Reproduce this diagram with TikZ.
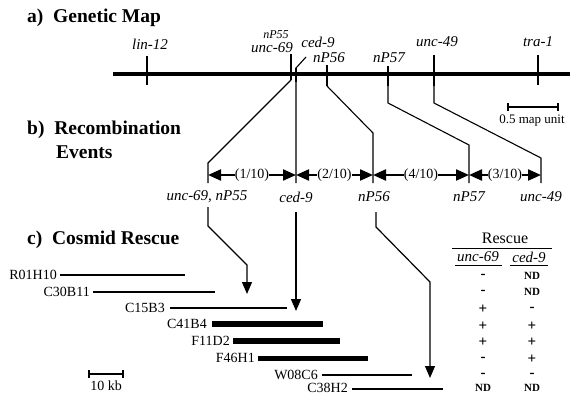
\documentclass[tikz,border=0pt]{standalone}
\usepackage{fontspec}
\setmainfont{Liberation Serif}
\usetikzlibrary{arrows.meta}
\begin{document}
\begin{tikzpicture}[x=1pt,y=-1pt,
  title/.style={anchor=west,font=\fontsize{19.5}{21}\selectfont\bfseries,inner sep=0pt},
  gene/.style={font=\fontsize{15}{16}\selectfont\itshape,inner sep=0pt},
  small/.style={font=\fontsize{12}{13}\selectfont\itshape,inner sep=0pt},
  ratio/.style={font=\fontsize{14}{15}\selectfont,fill=white,inner sep=0.3pt},
  cos/.style={anchor=east,font=\fontsize{14}{15}\selectfont,inner sep=0pt},
  cell/.style={font=\fontsize{15}{16}\selectfont\bfseries,inner sep=0pt},
  nd/.style={font=\fontsize{11}{12}\selectfont\bfseries,inner sep=0pt},
  tick/.style={line width=1.6pt},
  conn/.style={line width=1.1pt},
  dbl/.style={line width=2.2pt,{Triangle[length=13pt,width=11pt]}-{Triangle[length=13pt,width=11pt]}},
  down/.style={line width=1.2pt,-{Triangle[length=12pt,width=10pt]}}]
\useasboundingbox (0,0) rectangle (570,394);

% titles
\node[title] (ta) at (27,18) {a)\ \ Genetic Map};
\node[title] (tb) at (27,130) {b)\ \ Recombination};
\node[title] (tb2) at (56,152) {Events};
\node[title] (tc) at (27,240) {c)\ \ Cosmid Rescue};

% genetic map
\coordinate (mL) at (113,74);
\coordinate (mR) at (570,74);
\draw[line width=3.6pt] (mL) -- (mR);

\node[gene] (llin) at (150,44) {lin-12};
\coordinate (lin1) at (147,56); \coordinate (lin2) at (147,85);
\draw[tick] (lin1) -- (lin2);

\node[small] (lnp55) at (276,35) {nP55};
\node[gene] (lunc69) at (272,48) {unc-69};
\coordinate (u1) at (291,54); \coordinate (u2) at (291,80);
\coordinate (u3) at (208,163); \coordinate (u4) at (208,183);
\draw[tick] (u1) -- (u2);
\draw[conn] (u2) -- (u3) -- (u4);

\node[gene] (lced9) at (318,42) {ced-9};
\coordinate (c0) at (306,57); \coordinate (c1) at (296,68); \coordinate (c2) at (296,183);
\draw[conn] (c0) -- (c1) -- (c2);
\draw[tick] (296,68) -- (296,82);

\node[gene] (lnp56) at (329,58) {nP56};
\coordinate (n1) at (327,65); \coordinate (n2) at (327,86);
\coordinate (n3) at (373,133); \coordinate (n4) at (373,183);
\draw[tick] (n1) -- (n2);
\draw[conn] (n2) -- (n3) -- (n4);

\node[gene] (lnp57) at (389,58) {nP57};
\coordinate (p1) at (388,66); \coordinate (p2) at (388,103);
\coordinate (p3) at (469,145); \coordinate (p4) at (469,183);
\draw[tick] (p1) -- (388,86);
\draw[conn] (388,86) -- (p2) -- (p3) -- (p4);

\node[gene] (lunc49) at (437,42) {unc-49};
\coordinate (q1) at (434,55); \coordinate (q2) at (434,103);
\coordinate (q3) at (541,158); \coordinate (q4) at (541,183);
\draw[tick] (q1) -- (434,86);
\draw[conn] (434,86) -- (q2) -- (q3) -- (q4);

\node[gene] (ltra) at (538,42) {tra-1};
\coordinate (t1) at (538,55); \coordinate (t2) at (538,85);
\draw[tick] (t1) -- (t2);

% map scale
\coordinate (s1) at (508,107); \coordinate (s2) at (558,107);
\draw[line width=1.2pt] (s1) -- (s2);
\draw[line width=1.2pt] (508,103) -- (508,111) (558,103) -- (558,111);
\node[font=\fontsize{13}{14}\selectfont,inner sep=0pt] (lscale) at (532,121) {0.5 map unit};

% recombination events
\coordinate (e1) at (208,175); \coordinate (e2) at (296,175);
\coordinate (e3) at (373,175); \coordinate (e4) at (469,175);
\coordinate (e5) at (541,175);
\draw[dbl] (e1) -- node[ratio] (r1) {(1/10)} (e2);
\draw[dbl] (e2) -- node[ratio] (r2) {(2/10)} (e3);
\draw[dbl] (e3) -- node[ratio] (r3) {(4/10)} (e4);
\draw[dbl] (e4) -- node[ratio] (r4) {(3/10)} (e5);

\node[gene] (bu69) at (207,197) {unc-69, nP55};
\node[gene] (bc9) at (296,197) {ced-9};
\node[gene] (bn56) at (374,197) {nP56};
\node[gene] (bn57) at (469,197) {nP57};
\node[gene] (bu49) at (541,197) {unc-49};

% connectors to cosmids
\coordinate (d1) at (208,207); \coordinate (d2) at (208,226); \coordinate (d3) at (247,265); \coordinate (d4) at (247,294);
\draw[down] (d1) -- (d2) -- (d3) -- (d4);
\coordinate (f1) at (296,212); \coordinate (f2) at (296,311);
\draw[down] (f1) -- (f2);
\coordinate (g1) at (376,212); \coordinate (g2) at (376,227); \coordinate (g3) at (430,282); \coordinate (g4) at (430,378);
\draw[down] (g1) -- (g2) -- (g3) -- (g4);

% cosmids
\node[cos] (k1) at (57,275) {R01H10};
\draw[line width=2.2pt] (60,275) -- (185,275);
\node[cos] (k2) at (90,292) {C30B11};
\draw[line width=1.8pt] (93,292) -- (215,292);
\node[cos] (k3) at (165,308) {C15B3};
\draw[line width=2.2pt] (170,308) -- (287,308);
\node[cos] (k4) at (207,324) {C41B4};
\draw[line width=5.5pt] (212,324) -- (323,324);
\node[cos] (k5) at (230,341) {F11D2};
\draw[line width=5.5pt] (233,341) -- (340,341);
\node[cos] (k6) at (255,358) {F46H1};
\draw[line width=5pt] (258,358) -- (368,358);
\node[cos] (k7) at (318,375) {W08C6};
\draw[line width=2.8pt] (322,375) -- (412,375);
\node[cos] (k8) at (348,387.5) {C38H2};
\draw[line width=2.8pt] (352,389) -- (443,389);

% kb scale
\coordinate (kb1) at (89,374); \coordinate (kb2) at (123,374);
\draw[line width=1.2pt] (kb1) -- (kb2);
\draw[line width=1.2pt] (89,370) -- (89,378) (123,370) -- (123,378);
\node[font=\fontsize{14}{15}\selectfont,inner sep=0pt] (lkb) at (106,386) {10 kb};

% rescue table
\node[font=\fontsize{16}{17}\selectfont,inner sep=0pt] (hres) at (505,238) {Rescue};
\draw[line width=1pt] (452,248) -- (552,248);
\node[font=\fontsize{15}{16}\selectfont\itshape,inner sep=0pt] (h69) at (478,257) {unc-69};
\node[font=\fontsize{15}{16}\selectfont\itshape,inner sep=0pt] (h9) at (529,257) {ced-9};
\draw[line width=1pt] (455,265) -- (502,265) (510,265) -- (548,265);

\node[cell] (a1) at (483,276) {-}; \node[nd] (b1) at (532,276) {ND};
\node[cell] (a2) at (483,292) {-}; \node[nd] (b2) at (532,292) {ND};
\node[cell] (a3) at (483,309) {+}; \node[cell] (b3) at (532,309) {-};
\node[cell] (a4) at (483,326) {+}; \node[cell] (b4) at (532,326) {+};
\node[cell] (a5) at (483,342) {+}; \node[cell] (b5) at (532,342) {+};
\node[cell] (a6) at (483,359) {-}; \node[cell] (b6) at (532,359) {+};
\node[cell] (a7) at (483,375) {-}; \node[cell] (b7) at (532,375) {-};
\node[nd] (a8) at (483,388) {ND}; \node[nd] (b8) at (532,388) {ND};
\end{tikzpicture}
\end{document}
